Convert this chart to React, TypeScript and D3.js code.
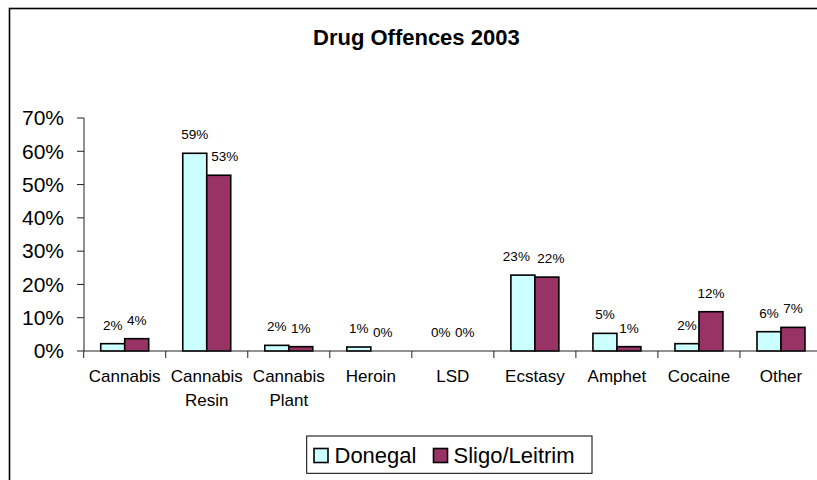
import React from "react";
import * as d3 from "d3";

const categories = ["Cannabis", "Cannabis Resin", "Cannabis Plant", "Heroin", "LSD", "Ecstasy", "Amphet", "Cocaine", "Other"];
const seriesNames = ["Donegal", "Sligo/Leitrim"];
const donegal = [2.2, 59.4, 1.7, 1.2, 0, 22.8, 5.3, 2.2, 5.8];
const sligo = [3.7, 52.8, 1.3, 0, 0, 22.2, 1.3, 11.8, 7.1];
const yTicks = [0, 10, 20, 30, 40, 50, 60, 70];
const colors = ["#CCFFFF", "#993366"];
const title = "Drug Offences 2003";

const W = 817;
const H = 480;
const FONT = "'Liberation Sans', Arial, sans-serif";

function labelNudge(c: string, j: number): number {
  if (c === "Cannabis Resin" && j === 1) return 6;
  if (c === "Ecstasy") return j === 0 ? -6.5 : 4;
  return 0;
}

export default function App() {
  const x = d3.scaleBand<string>().domain(categories).range([83.7, 822]).paddingInner(0).paddingOuter(0);
  const xi = d3.scaleBand<string>().domain(seriesNames).range([0, x.bandwidth()]).paddingInner(0).paddingOuter(0.71);
  const y = d3.scaleLinear().domain([0, 70]).range([351, 118]);
  const series = [donegal, sligo];
  const x0 = x.range()[0];
  const x1 = x.range()[1];

  return (
    <svg width={W} height={H} style={{ position: "absolute", left: 0, top: 0, background: "#fff" }} fontFamily={FONT}>
      <rect x={0} y={0} width={W} height={H} fill="#fff" />
      <rect x={9.5} y={8.5} width={900} height={900} fill="none" stroke="#000" strokeWidth={1.6} />
      <text x={313} y={45} fontSize={22} fontWeight="bold" fill="#000">{title}</text>

      {/* y axis */}
      <line x1={84} x2={84} y1={y(70)} y2={y(0)} stroke="#222" strokeWidth={1} />
      {yTicks.map((t) => (
        <g key={t}>
          <line x1={77} x2={84} y1={y(t)} y2={y(t)} stroke="#222" strokeWidth={1} />
          <text x={64} y={y(t)} dy="0.35em" textAnchor="end" fontSize={21} fill="#000">{t}%</text>
        </g>
      ))}

      {/* bars */}
      {categories.map((c, i) => (
        <g key={c}>
          {seriesNames.map((s, j) => {
            const v = series[j][i];
            const bx = (x(c) as number) + (xi(s) as number);
            const bw = xi.bandwidth();
            return (
              <g key={s}>
                {v > 0 && (
                  <rect x={bx} y={y(v)} width={bw} height={y(0) - y(v)} fill={colors[j]} stroke="#000" strokeWidth={1.6} />
                )}
                <text x={bx + bw / 2 + labelNudge(c, j)} y={y(v) - 14} textAnchor="middle" fontSize={13.5} fill="#000">
                  {Math.round(v)}%
                </text>
              </g>
            );
          })}
        </g>
      ))}

      {/* x axis */}
      <line x1={x0} x2={x1} y1={y(0)} y2={y(0)} stroke="#222" strokeWidth={1} />
      {categories.map((c) => (
        <line key={"t" + c} x1={(x(c) as number)} x2={(x(c) as number)} y1={y(0)} y2={y(0) + 7} stroke="#222" strokeWidth={1} />
      ))}
      <line x1={x1} x2={x1} y1={y(0)} y2={y(0) + 7} stroke="#222" strokeWidth={1} />
      {categories.map((c) => {
        const cx = (x(c) as number) + x.bandwidth() / 2;
        const lines = c.split(" ");
        return (
          <text key={"l" + c} x={cx} y={382.3} textAnchor="middle" fontSize={17} fill="#000">
            {lines.map((ln, k) => (
              <tspan key={k} x={cx} dy={k === 0 ? 0 : 23.3}>{ln}</tspan>
            ))}
          </text>
        );
      })}

      {/* legend */}
      <rect x={306.7} y={436} width={285.3} height={37.3} fill="#fff" stroke="#000" strokeWidth={1} />
      <rect x={314} y={448.5} width={14} height={14} fill={colors[0]} stroke="#000" strokeWidth={1.6} />
      <text x={334.5} y={462.7} fontSize={22} fill="#000">{seriesNames[0]}</text>
      <rect x={433.5} y={448.5} width={14} height={14} fill={colors[1]} stroke="#000" strokeWidth={1.6} />
      <text x={453.5} y={462.7} fontSize={22} fill="#000">{seriesNames[1]}</text>
    </svg>
  );
}
